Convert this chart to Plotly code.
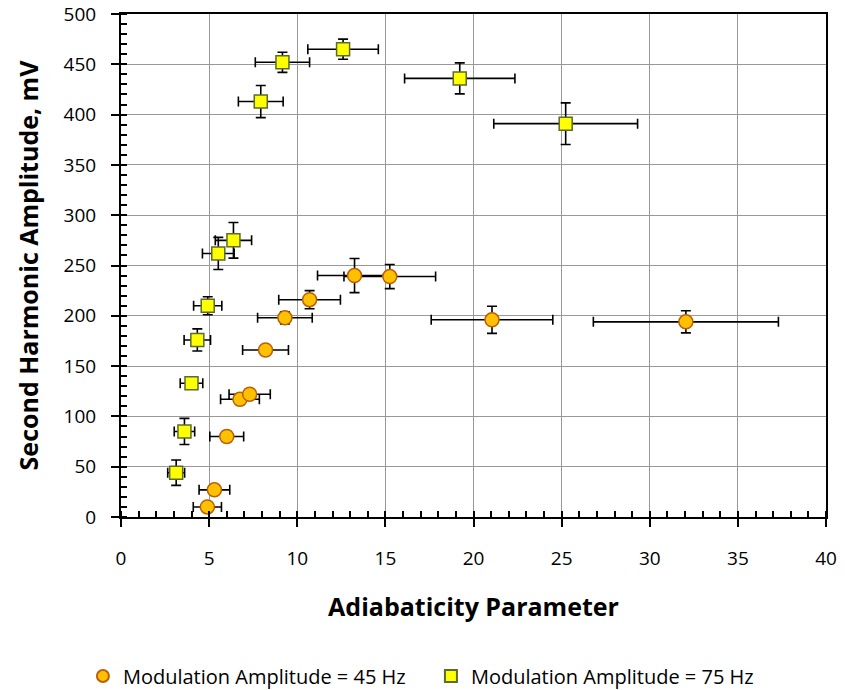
import plotly.graph_objects as go

# 45 Hz series
x45 = [4.9, 5.3, 6.0, 6.75, 7.3, 8.2, 9.3, 10.7, 13.25, 15.25, 21.05, 32.05]
y45 = [10, 27, 80, 117, 122, 166, 198, 216, 240, 239, 196, 194]
xerr45 = [0.8, 0.87, 0.96, 1.1, 1.17, 1.3, 1.55, 1.75, 2.1, 2.6, 3.45, 5.25]
yerr45 = [3, 4, 5, 5, 5, 4, 6, 9, 17, 12, 13.5, 11]

# 75 Hz series
x75 = [3.13, 3.6, 4.0, 4.33, 4.92, 5.52, 6.38, 7.93, 9.16, 12.6, 19.22, 25.23]
y75 = [44, 85, 133, 176, 210, 262, 275, 413, 452, 465, 436, 391]
xerr75 = [0.48, 0.58, 0.64, 0.75, 0.8, 0.9, 1.03, 1.27, 1.54, 2.0, 3.13, 4.08]
yerr75 = [12.6, 13, 5, 11, 9, 16, 17.7, 16, 10, 10, 15.4, 20.7]

names = ["Modulation Amplitude = 45 Hz", "Modulation Amplitude = 75 Hz"]
x_ticks = [0, 5, 10, 15, 20, 25, 30, 35, 40]
y_ticks = [0, 50, 100, 150, 200, 250, 300, 350, 400, 450, 500]

FONT = "Open Sans"
err_style = dict(color="black", thickness=1.6, width=5)

fig = go.Figure()
fig.add_trace(go.Scatter(
    x=x45, y=y45, mode="markers", name=names[0],
    marker=dict(symbol="circle", size=14, color="#FFC000",
                line=dict(color="#B8600A", width=1.5)),
    error_x=dict(type="data", array=xerr45, **err_style),
    error_y=dict(type="data", array=yerr45, **err_style),
))
fig.add_trace(go.Scatter(
    x=x75, y=y75, mode="markers", name=names[1],
    marker=dict(symbol="square", size=13, color="#FFFF00",
                line=dict(color="#5A6B2A", width=1.5)),
    error_x=dict(type="data", array=xerr75, **err_style),
    error_y=dict(type="data", array=yerr75, **err_style),
))
# invisible trace to carry overlay axes (inner half of crossing major ticks)
fig.add_trace(go.Scatter(x=[0], y=[0], xaxis="x2", yaxis="y2", mode="markers",
                         marker=dict(opacity=0), showlegend=False, hoverinfo="skip"))

fig.update_layout(
    width=845, height=690,
    margin=dict(l=121, r=19, t=14, b=173, autoexpand=False),
    paper_bgcolor="white", plot_bgcolor="white",
    font=dict(family=FONT, color="black"),
    showlegend=True,
    legend=dict(orientation="h", x=-0.054, xanchor="left", y=-0.316, yanchor="middle",
                font=dict(family=FONT, size=20, color="black"),
                entrywidth=303, entrywidthmode="pixels", itemsizing="constant"),
    xaxis=dict(
        range=[0, 40], tickvals=x_ticks, ticktext=[str(v) for v in x_ticks],
        showgrid=True, gridcolor="#999999", gridwidth=1.3,
        showline=True, linecolor="black", linewidth=2, mirror=True,
        ticks="outside", ticklen=8, tickwidth=2, tickcolor="black",
        minor=dict(dtick=1, ticks="inside", ticklen=6, tickwidth=1.5, tickcolor="black", showgrid=False),
        tickfont=dict(family=FONT, size=19, color="black"),
        ticklabelstandoff=15, ticklabeloverflow="allow",
        zeroline=False, automargin=False,
        title=dict(text="<b>Adiabaticity Parameter</b>", standoff=29,
                   font=dict(family=FONT, size=25, color="black")),
    ),
    yaxis=dict(
        range=[0, 500], tickvals=y_ticks, ticktext=[str(v) for v in y_ticks],
        showgrid=True, gridcolor="#999999", gridwidth=1.3,
        showline=True, linecolor="black", linewidth=2, mirror=True,
        ticks="outside", ticklen=8, tickwidth=2, tickcolor="black",
        minor=dict(dtick=10, ticks="inside", ticklen=6, tickwidth=1.5, tickcolor="black", showgrid=False),
        tickfont=dict(family=FONT, size=19, color="black"),
        ticklabelstandoff=11, ticklabeloverflow="allow",
        zeroline=False, automargin=False,
        title=dict(text="<b>Second Harmonic Amplitude, mV</b>", standoff=18,
                   font=dict(family=FONT, size=25, color="black")),
    ),
    xaxis2=dict(overlaying="x", matches="x", range=[0, 40], tickvals=x_ticks,
                ticks="inside", ticklen=5, tickwidth=2, tickcolor="black",
                showticklabels=False, showgrid=False, showline=False, zeroline=False),
    yaxis2=dict(overlaying="y", matches="y", range=[0, 500], tickvals=y_ticks,
                ticks="inside", ticklen=4, tickwidth=2, tickcolor="black",
                showticklabels=False, showgrid=False, showline=False, zeroline=False),
)

fig.write_html("out.html", config={"displayModeBar": False},
               post_script="document.body.style.margin='0';")
